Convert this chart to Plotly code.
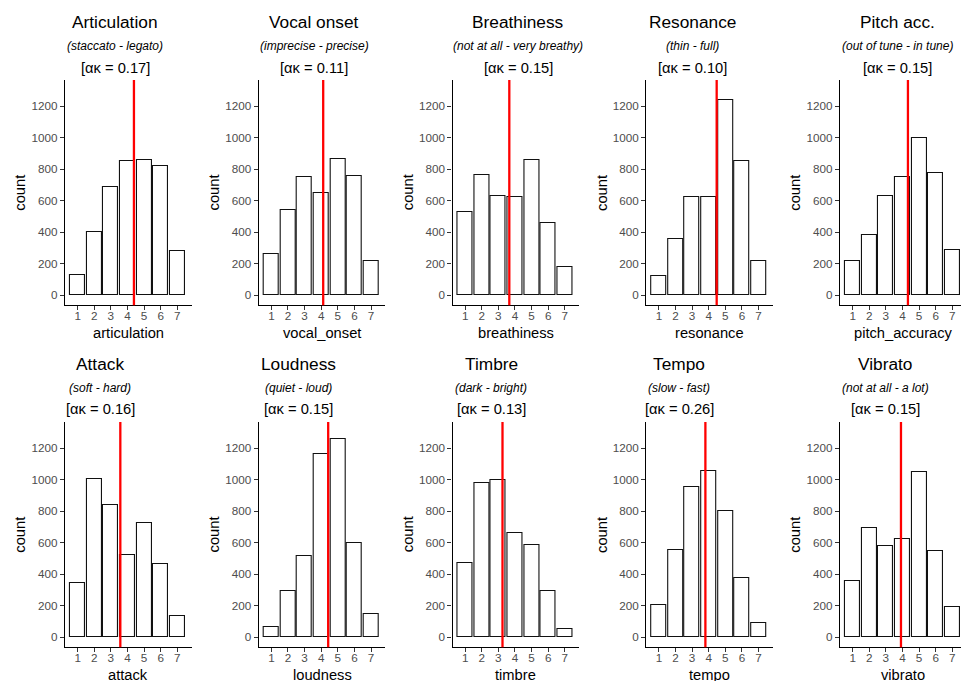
import plotly.graph_objects as go
from plotly.subplots import make_subplots

W, H = 961, 681

# ---------------- data ----------------
ratings = [1, 2, 3, 4, 5, 6, 7]
tick_labels = ["1", "2", "3", "4", "5", "6", "7"]
y_ticks = [0, 200, 400, 600, 800, 1000, 1200]

variables = ["articulation", "vocal_onset", "breathiness", "resonance", "pitch_accuracy",
             "attack", "loudness", "timbre", "tempo", "vibrato"]
titles = ["Articulation", "Vocal onset", "Breathiness", "Resonance", "Pitch acc.",
          "Attack", "Loudness", "Timbre", "Tempo", "Vibrato"]
subtitles = ["(staccato - legato)", "(imprecise - precise)", "(not at all - very breathy)",
             "(thin - full)", "(out of tune - in tune)",
             "(soft - hard)", "(quiet - loud)", "(dark - bright)", "(slow - fast)",
             "(not at all - a lot)"]
alpha_k = ["0.17", "0.11", "0.15", "0.10", "0.15", "0.16", "0.15", "0.13", "0.26", "0.15"]
means = [4.39, 4.12, 3.66, 4.48, 4.33, 3.57, 4.42, 3.25, 3.80, 3.91]

articulation = [130, 403, 689, 850, 858, 820, 281]
vocal_onset = [262, 540, 750, 647, 864, 757, 215]
breathiness = [526, 762, 630, 625, 858, 458, 176]
resonance = [123, 357, 622, 620, 1237, 853, 217]
pitch_accuracy = [214, 382, 626, 752, 997, 776, 283]
attack = [340, 1005, 840, 523, 726, 463, 133]
loudness = [67, 293, 514, 1160, 1255, 594, 148]
timbre = [470, 978, 998, 663, 585, 290, 50]
tempo = [205, 550, 953, 1055, 803, 375, 90]
vibrato = [357, 693, 580, 622, 1045, 545, 192]

counts = [articulation, vocal_onset, breathiness, resonance, pitch_accuracy,
          attack, loudness, timbre, tempo, vibrato]

# ---------------- layout geometry (window pixels) ----------------
FONT = "Liberation Sans, Arial, Helvetica, sans-serif"
X0, X1 = 0.24, 7.855
Y0, Y1 = -65, 1365
panel_w = 126.5
px_per_unit = panel_w / (X1 - X0)
col_left = [65 + 193.75 * c for c in range(5)]
row_top = [80, 422]
row_bot = [305.3, 647.3]
title_cx = [115, 314, 518, 692, 897, 100, 298, 491, 679, 885]
title_y = [22, 364]
sub_y = [46, 388]
alpha_y = [68, 409]
xtitle_y = [333, 675]

fig = make_subplots(rows=2, cols=5, horizontal_spacing=0.02, vertical_spacing=0.1)

annotations = []
shapes = []
for i, name in enumerate(variables):
    r, c = divmod(i, 5)
    left = col_left[c]
    right = left + panel_w
    x_hi = X1
    if right > W:
        x_hi = X0 + (W - left) / px_per_unit
        right = W
    fig.add_trace(
        go.Bar(x=ratings, y=counts[i], width=0.9,
               marker=dict(color="white", line=dict(color="#111111", width=1.1)),
               showlegend=False, hoverinfo="x+y"),
        row=r + 1, col=c + 1)
    idx = "" if i == 0 else str(i + 1)
    fig.layout["xaxis" + idx].update(
        domain=[left / W, right / W], range=[X0, x_hi],
        tickmode="array", tickvals=ratings, ticktext=tick_labels,
        showline=True, linecolor="black", linewidth=1.1, mirror=False,
        ticks="outside", ticklen=4, tickwidth=1, tickcolor="#333333",
        ticklabelstandoff=-4,
        showgrid=False, zeroline=False,
        tickfont=dict(family=FONT, size=11.7, color="#4D4D4D"))
    fig.layout["yaxis" + idx].update(
        domain=[(H - row_bot[r]) / H, (H - row_top[r]) / H], range=[Y0, Y1],
        tickmode="array", tickvals=y_ticks,
        showline=True, linecolor="black", linewidth=1.1,
        ticks="outside", ticklen=4, tickwidth=1, tickcolor="#333333",
        showgrid=False, zeroline=False,
        tickfont=dict(family=FONT, size=11.7, color="#4D4D4D"))
    # mean line
    shapes.append(dict(type="line", xref="x" + idx, yref="y" + idx + " domain",
                       x0=means[i], x1=means[i], y0=0, y1=1,
                       line=dict(color="#FF0000", width=2.3), layer="above"))
    cx = title_cx[i] / W
    annotations.append(dict(text=titles[i], x=cx, y=(H - title_y[r]) / H, xref="paper", yref="paper",
                            showarrow=False, xanchor="center", yanchor="middle",
                            font=dict(family=FONT, size=17.3, color="black")))
    annotations.append(dict(text="<i>" + subtitles[i] + "</i>", x=cx, y=(H - sub_y[r]) / H,
                            xref="paper", yref="paper", showarrow=False,
                            xanchor="center", yanchor="middle",
                            font=dict(family=FONT, size=12, color="black")))
    annotations.append(dict(text="[ακ = " + alpha_k[i] + "]", x=cx, y=(H - alpha_y[r]) / H,
                            xref="paper", yref="paper", showarrow=False,
                            xanchor="center", yanchor="middle",
                            font=dict(family=FONT, size=14.7, color="black")))
    # axis titles
    annotations.append(dict(text=name, x=(col_left[c] + panel_w / 2) / W, y=(H - xtitle_y[r]) / H,
                            xref="paper", yref="paper", showarrow=False,
                            xanchor="center", yanchor="middle",
                            font=dict(family=FONT, size=14.7, color="black")))
    annotations.append(dict(text="count", x=(col_left[c] - 45) / W,
                            y=(H - (row_top[r] + row_bot[r]) / 2) / H,
                            xref="paper", yref="paper", showarrow=False, textangle=-90,
                            xanchor="center", yanchor="middle",
                            font=dict(family=FONT, size=14.7, color="black")))

fig.update_layout(width=W, height=H, margin=dict(l=0, r=0, t=0, b=0),
                  paper_bgcolor="white", plot_bgcolor="white",
                  annotations=annotations, shapes=shapes, bargap=0)
# remove the browser's default 8px body margin so the figure fills the window
fig.write_html("out.html", config={"displayModeBar": False},
               post_script="document.body.style.margin='0';document.body.style.overflow='hidden';")
